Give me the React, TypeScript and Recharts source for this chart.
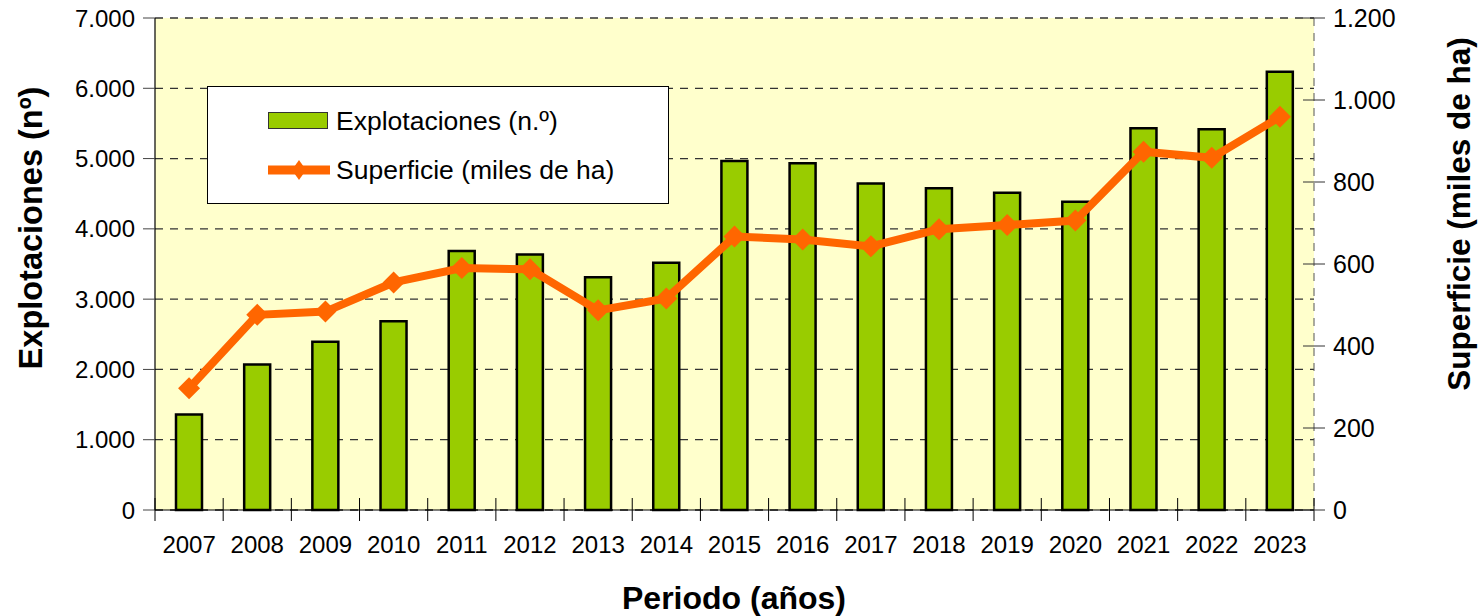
import React from 'react';
import { ComposedChart, Bar, Line, XAxis, YAxis, CartesianGrid, Legend } from 'recharts';

const years = ['2007','2008','2009','2010','2011','2012','2013','2014','2015','2016','2017','2018','2019','2020','2021','2022','2023'];
const explotaciones = [1360, 2070, 2395, 2685, 3685, 3635, 3310, 3518, 4965, 4935, 4645, 4578, 4512, 4385, 5432, 5418, 6235];
const superficie = [297, 476, 484, 555, 590, 587, 487, 516, 667, 660, 643, 685, 695, 706, 874, 859, 959];
const leftTicks = [0, 1000, 2000, 3000, 4000, 5000, 6000, 7000];
const rightTicks = [0, 200, 400, 600, 800, 1000, 1200];

const data = years.map((y, i) => ({ year: y, explotaciones: explotaciones[i], superficie: superficie[i] }));

const FONT = '"Liberation Sans", Arial, sans-serif';
const GREEN = '#99CC00';
const ORANGE = '#FF6600';

const fmt = (n: number) => String(n).replace(/\B(?=(\d{3})+(?!\d))/g, '.');

const Diamond = (props: any) => {
  const { cx, cy } = props;
  if (cx == null || cy == null) return null;
  const r = 11;
  return <polygon points={`${cx},${cy - r} ${cx + r},${cy} ${cx},${cy + r} ${cx - r},${cy}`} fill={ORANGE} />;
};

const XTick = (props: any) => {
  const { x, y, payload, index } = props;
  const half = payload && payload.offset ? payload.offset : 34.1;
  const last = index === years.length - 1;
  return (
    <g>
      <line x1={x - half} x2={x - half} y1={y - 12} y2={y + 11} stroke="#000" strokeWidth={1} />
      {last && <line x1={x + half} x2={x + half} y1={y - 12} y2={y + 11} stroke="#000" strokeWidth={1} />}
      <text x={x} y={y + 43} textAnchor="middle" fontSize={24} fontFamily={FONT} fill="#000">{payload.value}</text>
    </g>
  );
};

const RTick = (props: any) => {
  const { x, y, payload } = props;
  const ax = x - 19;
  return (
    <g>
      <line x1={ax - 11} x2={ax + 11} y1={y} y2={y} stroke="#333" strokeWidth={1} />
      <text x={x} y={y} dy={8.5} textAnchor="start" fontSize={25} fontFamily={FONT} fill="#000">{fmt(payload.value)}</text>
    </g>
  );
};

const LegendBox = () => (
  <div style={{ width: 460, height: 116, border: '1px solid #000', background: '#fff', position: 'relative', fontFamily: FONT, fontSize: 26.5, color: '#000' }}>
    <div style={{ position: 'absolute', left: 60, top: 25, width: 58, height: 15, background: GREEN, border: '1px solid #333' }} />
    <div style={{ position: 'absolute', left: 128, top: 19, lineHeight: '30px', whiteSpace: 'nowrap' }}>Explotaciones (n.º)</div>
    <svg style={{ position: 'absolute', left: 60, top: 72 }} width={62} height={22}>
      <line x1={0} x2={62} y1={11} y2={11} stroke={ORANGE} strokeWidth={9} />
      <polygon points="31,1 38,11 31,21 24,11" fill={ORANGE} />
    </svg>
    <div style={{ position: 'absolute', left: 128, top: 68, lineHeight: '30px', whiteSpace: 'nowrap' }}>Superficie (miles de ha)</div>
  </div>
);

export default function App() {
  return (
    <div style={{ position: 'absolute', left: 0, top: 0, width: 1479, height: 616, background: '#fff' }}>
      <ComposedChart width={1479} height={616} data={data} margin={{ top: 18, right: 95, bottom: 60, left: 75 }}>
        <CartesianGrid yAxisId="left" vertical={false} fill="#FFFFCC" stroke="#333" strokeWidth={1.3} strokeDasharray="8 7" />
        <XAxis dataKey="year" height={46} tickLine={false} tickSize={0} tickMargin={0} axisLine={{ stroke: '#000', strokeWidth: 1.2 }} tick={<XTick />} interval={0} />
        <YAxis yAxisId="left" width={80} domain={[0, 7000]} ticks={leftTicks} tickFormatter={fmt} tickSize={12} tickMargin={8}
          axisLine={{ stroke: '#000', strokeWidth: 1.2 }} tickLine={{ stroke: '#444' }}
          tick={{ fontSize: 24, fontFamily: FONT, fill: '#000' }} interval={0} />
        <YAxis yAxisId="right" orientation="right" width={70} domain={[0, 1200]} ticks={rightTicks} tickSize={11} tickMargin={8}
          tickLine={false} axisLine={{ stroke: '#555', strokeDasharray: '8 7' }} tick={<RTick />} interval={0} />
        <Legend layout="vertical" align="center" verticalAlign="middle" content={<LegendBox />}
          wrapperStyle={{ position: 'absolute', left: 207, top: 86, width: 462, height: 118 }} />
        <Bar yAxisId="left" dataKey="explotaciones" name="Explotaciones (n.º)" fill={GREEN} stroke="#000" strokeWidth={2.5} barSize={26} isAnimationActive={false} />
        <Line yAxisId="right" type="linear" dataKey="superficie" name="Superficie (miles de ha)" stroke={ORANGE} strokeWidth={8} dot={<Diamond />} activeDot={false} isAnimationActive={false} />
      </ComposedChart>
      <svg style={{ position: 'absolute', left: 0, top: 0, pointerEvents: 'none' }} width={1479} height={616}>
        <text x={734} y={609} textAnchor="middle" fontSize={32} fontWeight="bold" fontFamily={FONT} fill="#000">Periodo (años)</text>
        <text transform="translate(31,228) rotate(-90)" textAnchor="middle" dominantBaseline="central" fontSize={32.5} fontWeight="bold" fontFamily={FONT} fill="#000">Explotaciones (nº)</text>
        <text transform="translate(1459,214) rotate(-90)" textAnchor="middle" dominantBaseline="central" fontSize={31.5} fontWeight="bold" fontFamily={FONT} fill="#000">Superficie (miles de ha)</text>
      </svg>
    </div>
  );
}
